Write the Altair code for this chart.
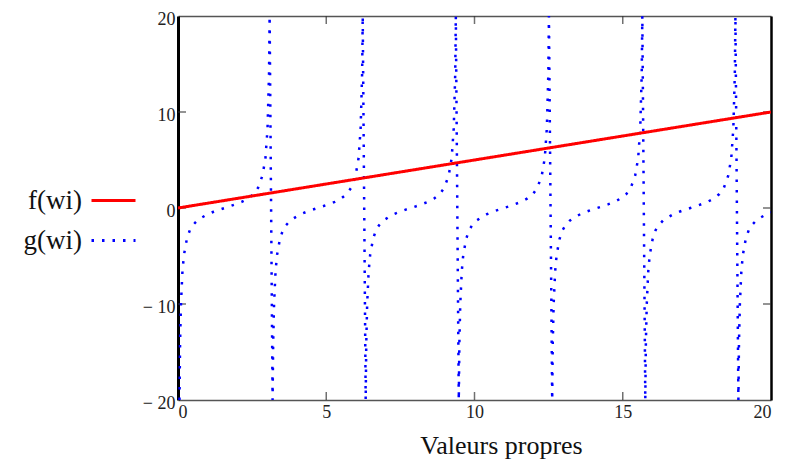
import altair as alt
import pandas as pd

# ---- data ----
series_names = ["f(wi)", "g(wi)"]

f_w = [0, 20]
f_val = [0, 10]

# g(wi): dotted curve, branches between the poles (values clipped to the -20..20 window)
g_w = [
    0.05, 0.07, 0.10, 0.15, 0.20, 0.30, 0.40, 0.50, 0.65, 0.80, 1.00, 1.20, 1.40, 1.57, 1.75, 1.95, 2.15, 2.35, 2.55, 2.70, 2.85, 2.95, 3.02, 3.07, 3.09,
    3.19, 3.21, 3.24, 3.29, 3.34, 3.44, 3.54, 3.64, 3.79, 3.94, 4.14, 4.34, 4.54, 4.71, 4.89, 5.09, 5.29, 5.49, 5.69, 5.84, 5.99, 6.09, 6.16, 6.21, 6.23,
    6.33, 6.35, 6.38, 6.43, 6.48, 6.58, 6.68, 6.78, 6.93, 7.08, 7.28, 7.48, 7.68, 7.85, 8.03, 8.23, 8.43, 8.63, 8.83, 8.98, 9.13, 9.23, 9.30, 9.35, 9.37,
    9.47, 9.49, 9.52, 9.57, 9.62, 9.72, 9.82, 9.92, 10.07, 10.22, 10.42, 10.62, 10.82, 10.99, 11.17, 11.37, 11.57, 11.77, 11.97, 12.12, 12.27, 12.37, 12.44, 12.49, 12.51,
    12.62, 12.64, 12.67, 12.72, 12.77, 12.87, 12.97, 13.07, 13.22, 13.37, 13.57, 13.77, 13.97, 14.14, 14.32, 14.52, 14.72, 14.92, 15.12, 15.27, 15.42, 15.52, 15.59, 15.64, 15.66,
    15.76, 15.78, 15.81, 15.86, 15.91, 16.01, 16.11, 16.21, 16.36, 16.51, 16.71, 16.91, 17.11, 17.28, 17.46, 17.66, 17.86, 18.06, 18.26, 18.41, 18.56, 18.66, 18.73, 18.78, 18.80,
    18.90, 18.92, 18.95, 19.00, 19.05, 19.15, 19.25, 19.35, 19.50, 19.65, 19.85, 20.00,
]
g_val = [
    -20, -14, -10, -6.6, -4.9, -3.2, -2.3, -1.8, -1.3, -1.0, -0.64, -0.39, -0.17, 0.0, 0.18, 0.40, 0.64, 0.97, 1.45, 2.1, 3.4, 5.2, 8.3, 14, 20,
    -20, -14, -10, -6.6, -4.9, -3.2, -2.3, -1.8, -1.3, -1.0, -0.64, -0.39, -0.17, 0.0, 0.18, 0.40, 0.64, 0.97, 1.45, 2.1, 3.4, 5.2, 8.3, 14, 20,
    -20, -14, -10, -6.6, -4.9, -3.2, -2.3, -1.8, -1.3, -1.0, -0.64, -0.39, -0.17, 0.0, 0.18, 0.40, 0.64, 0.97, 1.45, 2.1, 3.4, 5.2, 8.3, 14, 20,
    -20, -14, -10, -6.6, -4.9, -3.2, -2.3, -1.8, -1.3, -1.0, -0.64, -0.39, -0.17, 0.0, 0.18, 0.40, 0.64, 0.97, 1.45, 2.1, 3.4, 5.2, 8.3, 14, 20,
    -20, -14, -10, -6.6, -4.9, -3.2, -2.3, -1.8, -1.3, -1.0, -0.64, -0.39, -0.17, 0.0, 0.18, 0.40, 0.64, 0.97, 1.45, 2.1, 3.4, 5.2, 8.3, 14, 20,
    -20, -14, -10, -6.6, -4.9, -3.2, -2.3, -1.8, -1.3, -1.0, -0.64, -0.39, -0.17, 0.0, 0.18, 0.40, 0.64, 0.97, 1.45, 2.1, 3.4, 5.2, 8.3, 14, 20,
    -20, -14, -10, -6.6, -4.9, -3.2, -2.3, -1.8, -1.3, -1.0, -0.64, -0.45,
]

x_label_values = [0, 5, 10, 15, 20]
y_label_values = [-20, -10, 0, 10, 20]
inner_x_ticks = [5, 10, 15]
inner_y_ticks = [-10, 0, 10]
x_domain = [0, 20]
y_domain = [-20, 20]

# ---- styling ----
SERIF = "Liberation Serif"
line_colors = ["#ff0000", "#0000ff"]
line_dashes = [[1, 0], [2.5, 8]]

f_df = pd.DataFrame({"w": f_w, "v": f_val, "series": series_names[0]})
g_df = pd.DataFrame({"w": g_w, "v": g_val, "series": series_names[1]})
g_df["i"] = range(len(g_df))

xs = alt.Scale(domain=x_domain, nice=False, zero=False)
ys = alt.Scale(domain=y_domain, nice=False, zero=False)

legend = alt.Legend(
    title=None, orient="none", legendX=-88, legendY=161,
    symbolType="stroke", symbolSize=1936, symbolStrokeWidth=3,
    labelAlign="right", labelOffset={"expr": "-55"}, labelFont=SERIF, labelFontSize=27,
    labelColor="#111", rowPadding=3, padding=0,
)
color_enc = alt.Color("series:N", scale=alt.Scale(domain=series_names, range=line_colors), legend=legend)
dash_enc = alt.StrokeDash("series:N", scale=alt.Scale(domain=series_names, range=line_dashes), legend=legend)

x_bottom_axis = alt.Axis(
    orient="bottom", values=x_label_values, ticks=False, tickSize=0, grid=False,
    labelFont=SERIF, labelFontSize=18, labelColor="#222", labelPadding=3,
    domainColor="#555", domainWidth=1.5,
    title="Valeurs propres", titleFont=SERIF, titleFontSize=26, titleFontWeight="normal",
    titleColor="#111", titleX=323, titleY=53, titleAlign="center", titleBaseline="alphabetic",
)
y_left_axis = alt.Axis(
    orient="left", values=y_label_values, ticks=False, tickSize=0, grid=False,
    labelFont=SERIF, labelFontSize=18, labelColor="#222", labelPadding=3, labelOffset=3,
    labelExpr="datum.value < 0 ? '\u2212 ' + abs(datum.value) : datum.label",
    domainColor="#000", domainWidth=3, title=None,
)
x_top_axis = alt.Axis(orient="top", labels=False, ticks=False, grid=False,
                      domainColor="#555", domainWidth=1.5, title=None)
y_right_axis = alt.Axis(orient="right", labels=False, ticks=False, grid=False,
                        domainColor="#000", domainWidth=2.5, title=None)

g_line = alt.Chart(g_df).mark_line(strokeWidth=2.5, clip=True).encode(
    x=alt.X("w:Q", scale=xs, axis=x_bottom_axis),
    y=alt.Y("v:Q", scale=ys, axis=y_left_axis),
    order=alt.Order("i:Q"),
    color=color_enc,
    strokeDash=dash_enc,
)
f_line = alt.Chart(f_df).mark_line(strokeWidth=3, clip=True).encode(
    x=alt.X("w:Q", scale=xs, axis=x_top_axis),
    y=alt.Y("v:Q", scale=ys, axis=y_right_axis),
    color=color_enc,
    strokeDash=dash_enc,
)

# inner tick marks on the four frame sides
bt = pd.DataFrame({"w": inner_x_ticks, "v": y_domain[0]})
tt = pd.DataFrame({"w": inner_x_ticks, "v": y_domain[1]})
lt = pd.DataFrame({"w": x_domain[0], "v": inner_y_ticks})
rt = pd.DataFrame({"w": x_domain[1], "v": inner_y_ticks})

def tick_layer(df, orient, **offs):
    return alt.Chart(df).mark_tick(orient=orient, size=8, thickness=1.5, color="#333", **offs).encode(
        x=alt.X("w:Q", scale=xs, axis=None),
        y=alt.Y("v:Q", scale=ys, axis=None),
    )

ticks = (
    tick_layer(bt, "vertical", yOffset=-4)
    + tick_layer(tt, "vertical", yOffset=4)
    + tick_layer(lt, "horizontal", xOffset=4)
    + tick_layer(rt, "horizontal", xOffset=-4)
)

chart = alt.layer(ticks, g_line, f_line).properties(
    width=593, height=384,
    autosize=alt.AutoSizeParams(type="none"),
    padding={"left": 170, "top": 8, "right": 7, "bottom": 59},
    background="white",
).configure_view(stroke=None)

chart.save("out.html", embed_options={"renderer": "svg", "actions": False})
